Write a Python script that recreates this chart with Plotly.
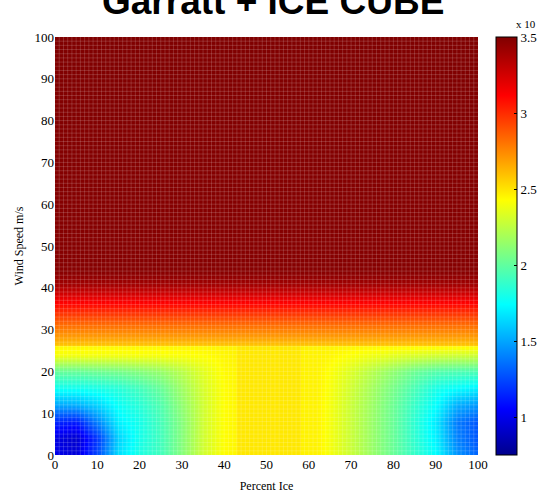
import plotly.graph_objects as go

# ---- data ----
percent_ice = [0, 5, 10, 15, 20, 25, 30, 35, 40, 42.9, 43.1, 50, 57.9, 58.1, 62, 65, 70, 75, 80, 85, 90, 95, 100]

wind_low = [0, 4, 8, 12, 16, 20, 24, 26]
row_w0  = [1.00, 0.95, 1.25, 1.65, 1.82, 1.92, 2.10, 2.30, 2.43, 2.45, 2.49, 2.49, 2.49, 2.46, 2.46, 2.40, 2.28, 2.15, 2.02, 1.88, 1.74, 1.45, 1.32]
row_w4  = [0.98, 0.92, 1.20, 1.62, 1.80, 1.92, 2.10, 2.30, 2.43, 2.45, 2.49, 2.49, 2.49, 2.46, 2.46, 2.40, 2.28, 2.15, 2.02, 1.86, 1.70, 1.40, 1.28]
row_w8  = [1.15, 1.12, 1.40, 1.70, 1.80, 1.93, 2.10, 2.30, 2.43, 2.45, 2.49, 2.49, 2.49, 2.46, 2.46, 2.40, 2.28, 2.15, 2.02, 1.85, 1.68, 1.38, 1.28]
row_w12 = [1.50, 1.52, 1.62, 1.76, 1.85, 1.96, 2.13, 2.30, 2.43, 2.45, 2.49, 2.49, 2.49, 2.46, 2.46, 2.40, 2.28, 2.16, 2.03, 1.88, 1.74, 1.52, 1.46]
row_w16 = [1.78, 1.78, 1.80, 1.84, 1.92, 2.02, 2.17, 2.32, 2.43, 2.45, 2.49, 2.49, 2.49, 2.46, 2.46, 2.41, 2.30, 2.18, 2.06, 1.93, 1.80, 1.74, 1.70]
row_w20 = [2.02, 2.02, 2.04, 2.06, 2.10, 2.15, 2.24, 2.35, 2.44, 2.45, 2.49, 2.49, 2.49, 2.46, 2.46, 2.42, 2.33, 2.23, 2.13, 2.03, 1.97, 1.95, 1.95]
row_w24 = [2.40, 2.40, 2.40, 2.40, 2.41, 2.41, 2.42, 2.43, 2.45, 2.46, 2.49, 2.49, 2.49, 2.46, 2.46, 2.45, 2.42, 2.39, 2.36, 2.33, 2.31, 2.30, 2.30]
row_w26 = [2.45, 2.45, 2.45, 2.45, 2.45, 2.45, 2.45, 2.45, 2.46, 2.46, 2.49, 2.49, 2.49, 2.46, 2.46, 2.46, 2.45, 2.45, 2.45, 2.45, 2.45, 2.45, 2.45]

# upper part: same value across all ice percentages
wind_high = [26.3, 28, 31, 34, 37, 39, 41, 44, 100]
val_high = [2.58, 2.68, 2.82, 2.98, 3.15, 3.28, 3.40, 3.48, 3.50]

x_ticks = [0, 10, 20, 30, 40, 50, 60, 70, 80, 90, 100]
cb_ticks = [1, 1.5, 2, 2.5, 3, 3.5]

# ---- build table ----
wind = wind_low + wind_high
z = [row_w0, row_w4, row_w8, row_w12, row_w16, row_w20, row_w24, row_w26]
z += [[v] * len(percent_ice) for v in val_high]

jet = [[0.0, "rgb(0,0,140)"], [0.11, "rgb(0,0,255)"], [0.36, "rgb(0,255,255)"],
       [0.61, "rgb(255,255,0)"], [0.86, "rgb(255,0,0)"], [1.0, "rgb(128,0,0)"]]

serif = "Liberation Serif, Times New Roman, serif"

fig = go.Figure(go.Heatmap(
    x=percent_ice, y=wind, z=z, zsmooth="best",
    colorscale=jet, zmin=0.75, zmax=3.5,
    colorbar=dict(
        x=1.042, xanchor="left", xpad=0, ypad=0,
        y=0.5, yanchor="middle", len=1.0, lenmode="fraction",
        thickness=21, outlinewidth=1, outlinecolor="black",
        tickvals=cb_ticks, ticktext=[str(t) for t in cb_ticks],
        ticks="inside", ticklen=3, tickcolor="black",
        tickfont=dict(family=serif, size=13, color="black"),
    ),
))

# faint cell lines (faceted look)
shapes = []
for i in range(1, 100):
    shapes.append(dict(type="line", xref="x", yref="paper", x0=i, x1=i, y0=0, y1=1,
                       line=dict(color="rgba(255,255,255,0.16)", width=1)))
    shapes.append(dict(type="line", xref="paper", yref="y", x0=0, x1=1, y0=i, y1=i,
                       line=dict(color="rgba(255,255,255,0.16)", width=1)))

fig.update_layout(
    width=553, height=493, autosize=False,
    margin=dict(l=55, r=57, t=37, b=38),
    paper_bgcolor="white", plot_bgcolor="white",
    shapes=shapes,
    xaxis=dict(range=[0, 100], tickvals=x_ticks, showgrid=False, zeroline=False, automargin=False,
               ticks="", tickfont=dict(family=serif, size=13, color="black"),
               title=dict(text="Percent Ice", font=dict(family=serif, size=12, color="black"), standoff=10)),
    yaxis=dict(range=[0, 100], tickvals=x_ticks, showgrid=False, zeroline=False, automargin=False,
               ticks="", tickfont=dict(family=serif, size=13, color="black"),
               title=dict(text="Wind Speed m/s", font=dict(family=serif, size=12, color="black"), standoff=8)),
    annotations=[
        dict(text="<b>Garratt + ICE CUBE</b>", xref="paper", yref="paper", x=0.516, y=1.031,
             xanchor="center", yanchor="bottom", showarrow=False,
             font=dict(family="Liberation Sans, Arial, sans-serif", size=37, color="black")),
        dict(text="x 10", xref="paper", yref="paper", x=1.086, y=1.012,
             xanchor="left", yanchor="bottom", showarrow=False,
             font=dict(family=serif, size=11, color="black")),
    ],
)

fig.write_html(
    "out.html",
    config={"responsive": False, "displayModeBar": False},
    post_script="document.body.style.margin='0';document.body.style.overflow='hidden';",
)
